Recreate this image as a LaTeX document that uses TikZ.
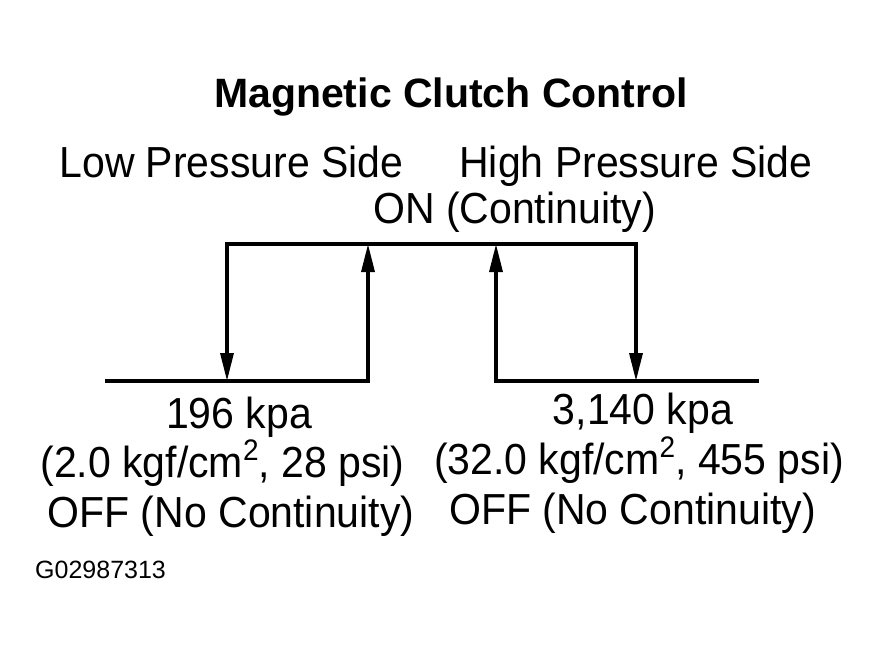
\documentclass[tikz,border=0pt]{standalone}
\usepackage{fontspec}
\usepackage{graphicx}
\setmainfont{Liberation Sans}
\usetikzlibrary{arrows.meta}
\newcommand{\supTwo}{\smash{\raisebox{16pt}{\fontsize{28}{28}\selectfont 2}}}
\newcommand{\tall}[1]{\scalebox{1}[1.06]{#1}}
\begin{document}
\begin{tikzpicture}[x=1pt,y=-1pt,
  lbl/.style={inner sep=0pt,anchor=base,font=\fontsize{41}{48}\selectfont},
  ttl/.style={inner sep=0pt,anchor=base,font=\fontsize{41}{48}\selectfont\bfseries},
  wire/.style={line width=3.3pt,line cap=rect},
  arr/.style={line width=3.3pt,-{Triangle[length=28pt,width=13pt]}}]
\useasboundingbox (0,0) rectangle (876,657);
% text
\node[ttl] (title) at (451,107) {Magnetic Clutch Control};
\node[lbl] (low) at (231.5,177) {\tall{Low Pressure Side}};
\node[lbl] (high) at (636,177) {\tall{High Pressure Side}};
\node[lbl] (on) at (514.5,223) {\tall{ON (Continuity)}};
\node[lbl] (lkpa) at (239,428) {\tall{196 kpa}};
\node[lbl] (lkgf) at (222.5,477) {\tall{(2.0 kgf/cm\supTwo, 28 psi)}};
\node[lbl] (loff) at (231,527) {\tall{OFF (No Continuity)}};
\node[lbl] (rkpa) at (643,424) {\tall{3,140 kpa}};
\node[lbl] (rkgf) at (639,474) {\tall{(32.0 kgf/cm\supTwo, 455 psi)}};
\node[lbl] (roff) at (632.5,524) {\tall{OFF (No Continuity)}};
\node[inner sep=0pt,anchor=base west,font=\fontsize{25}{28}\selectfont] (code) at (35,578) {G02987313};
% corners
\coordinate (bl0) at (107,381);
\coordinate (bl1) at (368,381);
\coordinate (tl0) at (227,244);
\coordinate (tl1) at (368,244);
\coordinate (dl) at (227,381);
\coordinate (tr0) at (496,244);
\coordinate (tr1) at (636,244);
\coordinate (br0) at (496,381);
\coordinate (br1) at (757,381);
\coordinate (dr) at (636,381);
% lines
\draw[wire] (bl0) -- (bl1);
\draw[wire] (tl0) -- (tr1);
\draw[wire] (br0) -- (br1);
\draw[arr] (tl0) -- (dl);
\draw[arr] (bl1) -- (tl1);
\draw[arr] (br0) -- (tr0);
\draw[arr] (tr1) -- (dr);
\end{tikzpicture}
\end{document}
